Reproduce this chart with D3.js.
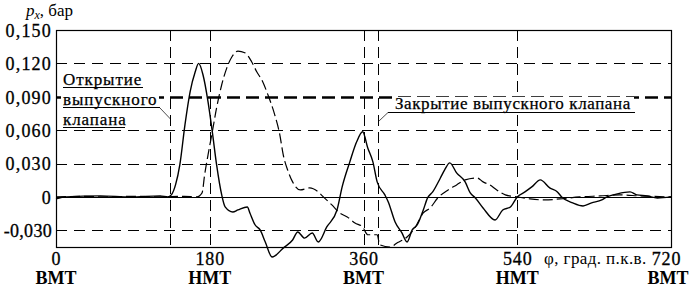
<!DOCTYPE html>
<html>
<head>
<meta charset="utf-8">
<script src="https://cdn.jsdelivr.net/npm/d3@7"></script>
<style>
  body { margin: 0; background: #fff; }
  svg text { font-family: "Liberation Serif", "DejaVu Serif", serif !important; fill: #000; }
</style>
</head>
<body>
<div class="canvas"></div>
<script>
// crank angle (deg) and pressure (bar), solid curve
const solidPhi = [0, 12, 52, 87, 122, 131, 135, 140, 145, 151, 157, 163, 167, 172, 178, 183, 188, 194, 198,
  207, 213, 224, 227, 233, 239, 245, 253, 266, 277, 283, 291, 300, 307, 317, 329, 335, 344, 352, 359,
  365, 371, 376, 385, 389, 397, 405, 411, 417, 423, 430, 435, 441, 450, 455, 461, 469, 479, 485, 491,
  500, 514, 523, 532, 540, 549, 557, 567, 578, 587, 592, 605, 617, 627, 639, 645, 657, 672, 680, 692, 704, 720];
const solidPx = [-0.0018, 0, 0.0009, 0, 0.0009, 0, 0.0018, 0.011, 0.029, 0.065, 0.0945, 0.1125, 0.12, 0.11, 0.0855, 0.0585, 0.029, 0.0018, -0.009,
  -0.0135, -0.0117, -0.009, -0.0144, -0.025, -0.0297, -0.0405, -0.054, -0.046, -0.0387, -0.0315, -0.037, -0.0324, -0.0405, -0.027, -0.0117, 0.009, 0.0315, 0.0495, 0.0585,
  0.044, 0.0315, 0.0135, 0.0018, -0.0045, -0.0225, -0.0324, -0.0405, -0.0297, -0.025, -0.0117, -0.0009, 0.0045, 0.017, 0.0243, 0.0306, 0.0216, 0.0135, 0.0036, -0.0009,
  -0.0099, -0.0207, -0.0117, -0.009, 0, 0.0045, 0.009, 0.0153, 0.0081, 0.0045, 0, -0.0054, -0.0081, -0.0054, -0.0027, 0, 0.0027, 0.0045, 0.0018, 0.0009, -0.0009, 0];

// dashed curve
const dashedPhi = [0, 30, 60, 90, 120, 150, 165, 171, 174, 178, 183, 188, 194, 200, 206, 213, 221, 229, 235, 242, 248,
  256, 262, 266, 272, 277, 286, 297, 307, 313, 323, 332, 341, 350, 359, 365, 376, 379, 391, 400, 411, 420, 430, 438,
  447, 459, 469, 479, 493, 500, 508, 516, 526, 540, 555, 572, 590, 613, 637, 660, 684, 720];
const dashedPx = [0, 0.0005, 0, 0.0005, 0, 0.0005, 0, 0.0036, 0.0198, 0.0378, 0.0585, 0.08, 0.1008, 0.116, 0.126, 0.131, 0.1296, 0.1215, 0.1125, 0.1035, 0.092,
  0.074, 0.056, 0.038, 0.0225, 0.0135, 0.0063, 0.0081, 0.0045, 0, -0.0072, -0.0144, -0.018, -0.0234, -0.027, -0.034, -0.034, -0.043, -0.045, -0.041, -0.036, -0.028, -0.0144, -0.0099,
  -0.0009, 0.0063, 0.0108, 0.0153, 0.017, 0.0135, 0.0108, 0.0063, 0.0018, 0, -0.0018, -0.0027, -0.0018, 0, 0.0009, 0.0018, 0.0009, 0];

const yTicks = [-0.03, 0, 0.03, 0.06, 0.09, 0.12, 0.15];
const xTicks = [0, 180, 360, 540, 720];
const xDeadCentres = ['ВМТ', 'НМТ', 'ВМТ', 'НМТ', 'ВМТ'];
const valveMarks = [134, 377];

const dims = { width: 689, height: 287, left: 56, right: 671, top: 30, bottom: 247 };
const serif = '"Liberation Serif", "DejaVu Serif", serif';

const svg = d3.select('.canvas')
  .append('svg')
  .attr('width', dims.width)
  .attr('height', dims.height)
  .attr('font-family', serif);

const x = d3.scaleLinear().domain([0, 720]).range([dims.left, dims.right]);
const y = d3.scaleLinear().domain([-0.045, 0.15]).range([dims.bottom, dims.top]);

// horizontal grid
svg.append('g').selectAll('line')
  .data(yTicks.filter(d => d !== 0.15))
  .enter().append('line')
    .attr('x1', dims.left).attr('x2', dims.right)
    .attr('y1', d => Math.round(y(d)) + 0.5).attr('y2', d => Math.round(y(d)) + 0.5)
    .attr('stroke', '#000')
    .attr('stroke-width', d => d === 0.09 ? 2.6 : 1)
    .attr('stroke-dasharray', d => d === 0 ? null : (d === 0.09 ? '13,6' : '11,7'));

// vertical grid
svg.append('g').selectAll('line')
  .data([180, 360, 540].concat(valveMarks))
  .enter().append('line')
    .attr('x1', d => Math.round(x(d)) + 0.5).attr('x2', d => Math.round(x(d)) + 0.5)
    .attr('y1', dims.top).attr('y2', dims.bottom)
    .attr('stroke', '#000')
    .attr('stroke-width', 1)
    .attr('stroke-dasharray', '11,6');

// annotation boxes (cover the grid behind the text)
const noteL = svg.append('g');
noteL.append('rect').attr('x', 61).attr('y', 70).attr('width', 98).attr('height', 60).attr('fill', '#fff');
['Открытие', 'выпускного', 'клапана'].forEach((t, i) => {
  noteL.append('text')
    .attr('x', 63).attr('y', 85 + i * 20)
    .style('font-size', '17px')
    .style('letter-spacing', '0.9px')
    .attr('stroke', '#000').attr('stroke-width', 0.25)
    .text(t);
});
noteL.append('line').attr('x1', 63).attr('x2', 143).attr('y1', 87.5).attr('y2', 87.5).attr('stroke', '#000');
noteL.append('line').attr('x1', 63).attr('x2', 160).attr('y1', 107.5).attr('y2', 107.5).attr('stroke', '#000');
noteL.append('line').attr('x1', 63).attr('x2', 125).attr('y1', 127.5).attr('y2', 127.5).attr('stroke', '#000');
noteL.append('line').attr('x1', 160).attr('y1', 108).attr('x2', x(valveMarks[0])).attr('y2', 119)
  .attr('stroke', '#000').attr('stroke-width', 0.7);

const noteR = svg.append('g');
noteR.append('rect').attr('x', 392).attr('y', 97).attr('width', 242).attr('height', 15).attr('fill', '#fff');
noteR.append('text')
  .attr('x', 395).attr('y', 109)
  .style('font-size', '17px')
  .style('letter-spacing', '0.6px')
  .attr('stroke', '#000').attr('stroke-width', 0.25)
  .text('Закрытие выпускного клапана');
noteR.append('line').attr('x1', 388).attr('x2', 635).attr('y1', 112.5).attr('y2', 112.5).attr('stroke', '#000');
noteR.append('line').attr('x1', 388).attr('y1', 112.5).attr('x2', x(valveMarks[1]) + 1).attr('y2', 121)
  .attr('stroke', '#000').attr('stroke-width', 0.7);

// curves
const line = d3.line()
  .x(d => x(d[0]))
  .y(d => y(d[1]))
  .curve(d3.curveMonotoneX);

svg.append('path')
  .datum(dashedPhi.map((p, i) => [p, dashedPx[i]]))
  .attr('d', line)
  .attr('fill', 'none')
  .attr('stroke', '#000')
  .attr('stroke-width', 1.2)
  .attr('stroke-dasharray', '10,4');

svg.append('path')
  .datum(solidPhi.map((p, i) => [p, solidPx[i]]))
  .attr('d', line)
  .attr('fill', 'none')
  .attr('stroke', '#000')
  .attr('stroke-width', 1.4);

// frame
svg.append('rect')
  .attr('x', dims.left + 0.5).attr('y', dims.top + 0.5)
  .attr('width', dims.right - dims.left).attr('height', dims.bottom - dims.top)
  .attr('fill', 'none').attr('stroke', '#000').attr('stroke-width', 1.2);

// axes
const fmt = d => d === 0 ? '0' : d3.format('.3f')(d).replace('.', ',').replace('−', '-');

const yAxis = svg.append('g')
  .attr('transform', `translate(${dims.left}, 0)`)
  .call(d3.axisLeft(y).tickValues(yTicks).tickFormat(fmt).tickSize(0).tickPadding(4));
yAxis.attr('font-family', serif).attr('font-size', 18);
yAxis.select('.domain').remove();
yAxis.selectAll('text')
  .style('letter-spacing', d => d < 0 ? '0.3px' : '1.2px')
  .attr('stroke', '#000').attr('stroke-width', 0.3)
  .attr('dy', '0.35em');

const xAxis = svg.append('g')
  .attr('transform', `translate(0, ${dims.bottom})`)
  .call(d3.axisBottom(x).tickValues(xTicks).tickFormat(d => d).tickSize(0).tickPadding(5));
xAxis.attr('font-family', serif).attr('font-size', 18);
xAxis.select('.domain').remove();
xAxis.selectAll('text')
  .style('letter-spacing', '0.8px')
  .attr('stroke', '#000').attr('stroke-width', 0.3)
  .attr('dx', d => d === 720 ? -5 : 0);

svg.append('g').selectAll('text')
  .data(xTicks)
  .enter().append('text')
    .attr('x', d => x(d) - (d === 720 ? 3 : 0))
    .attr('y', 284)
    .attr('text-anchor', 'middle')
    .style('font-size', '18px')
    .style('font-weight', 'bold')
    .text((d, i) => xDeadCentres[i]);

svg.append('text')
  .attr('x', 544).attr('y', 264)
  .style('font-size', '17px')
  .style('letter-spacing', '0.4px')
  .text('φ, град. п.к.в.');

// y title
const yTitle = svg.append('text').attr('x', 26).attr('y', 16)
  .style('font-size', '17px');
yTitle.append('tspan').style('font-style', 'italic').text('p');
yTitle.append('tspan').style('font-style', 'italic').style('font-size', '12px').attr('dy', 3).text('x');
yTitle.append('tspan').attr('dy', -3).text(', бар');
</script>
</body>
</html>
